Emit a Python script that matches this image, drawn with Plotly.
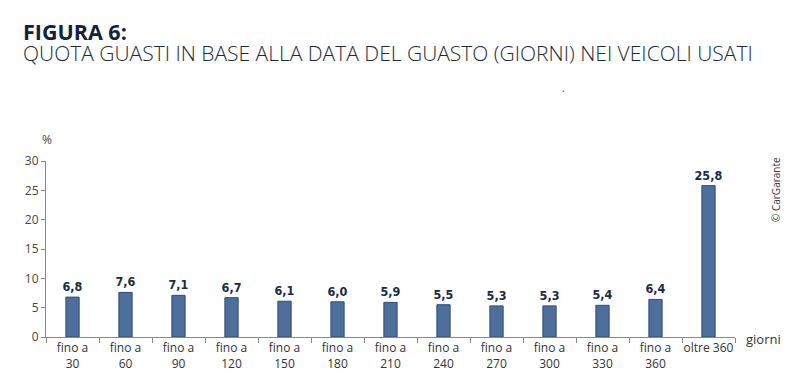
import plotly.graph_objects as go

categories = ["fino a<br>30", "fino a<br>60", "fino a<br>90", "fino a<br>120", "fino a<br>150",
              "fino a<br>180", "fino a<br>210", "fino a<br>240", "fino a<br>270", "fino a<br>300",
              "fino a<br>330", "fino a<br>360", "oltre 360"]
values = [6.8, 7.6, 7.1, 6.7, 6.1, 6.0, 5.9, 5.5, 5.3, 5.3, 5.4, 6.4, 25.8]
value_labels = [f"{v:.1f}".replace(".", ",") for v in values]
y_ticks = [0, 5, 10, 15, 20, 25, 30]

title_text = "FIGURA 6:"
subtitle_text = "QUOTA GUASTI IN BASE ALLA DATA DEL GUASTO (GIORNI) NEI VEICOLI USATI"

# the page has an 8px body margin, so the figure is drawn 8px in from the window corner
OFF = 8
W, H = 800 - OFF, 389 - OFF
L, R, T, B = 46 - OFF, 735 - OFF, 161 - OFF, 337 - OFF

def px(x):
    return (x - OFF - L) / (R - L)

def py(y):
    return (B - (y - OFF)) / (B - T)

fig = go.Figure(go.Bar(
    x=categories, y=values, width=0.25,
    marker=dict(color="#4e6f9b", line=dict(color="#2e4b72", width=1)),
    text=value_labels, textposition="outside", cliponaxis=False, constraintext="none",
    textfont=dict(family="DejaVu Sans Condensed", size=12.5, color="#1a2a44", weight="bold"),
))

fig.update_layout(
    width=W, height=H,
    margin=dict(l=L, r=W - R, t=T, b=H - B, pad=0, autoexpand=False),
    paper_bgcolor="white", plot_bgcolor="white",
    showlegend=False,
    bargap=0.75,
    xaxis=dict(
        type="category", tickson="boundaries", ticks="outside", ticklen=5,
        tickcolor="#888", showline=True, linecolor="#888", linewidth=1,
        showgrid=False, tickangle=0, automargin=False,
        tickfont=dict(family="Open Sans", size=12, color="#333"),
        fixedrange=True,
    ),
    yaxis=dict(
        range=[0, 30], tickvals=y_ticks, ticks="outside", ticklen=4,
        tickcolor="#888", showline=True, linecolor="#888", linewidth=1,
        showgrid=False, zeroline=False, automargin=False,
        tickfont=dict(family="Open Sans", size=12, color="#444"),
        fixedrange=True,
    ),
    font=dict(family="Open Sans"),
)

heading = (f"<span style='font-size:21.5px;font-weight:bold;fill:#14213a'>{title_text}</span><br>"
           f"<span style='font-size:21px;font-weight:300;fill:#1c2b3a'>{subtitle_text}</span>")

ann = [
    dict(text=heading, x=px(21), y=py(42), xanchor="left", yanchor="middle", align="left",
         font=dict(family="Open Sans", size=16, color="#1c2b3a")),
    dict(text="%", x=px(47), y=py(139), xanchor="center", yanchor="middle",
         font=dict(family="Open Sans", size=12, color="#444")),
    dict(text="giorni", x=px(744), y=py(339), xanchor="left", yanchor="middle",
         font=dict(family="Open Sans", size=13, color="#333")),
    dict(text="© CarGarante", x=px(776), y=py(190), xanchor="center", yanchor="middle",
         textangle=-90, font=dict(family="Open Sans", size=10, color="#333")),
    dict(text=".", x=px(563), y=py(88), xanchor="center", yanchor="middle",
         font=dict(family="Open Sans", size=10, color="#333")),
]
for a in ann:
    a.update(xref="paper", yref="paper", showarrow=False)
fig.update_layout(annotations=ann)

fig.write_html("out.html")
